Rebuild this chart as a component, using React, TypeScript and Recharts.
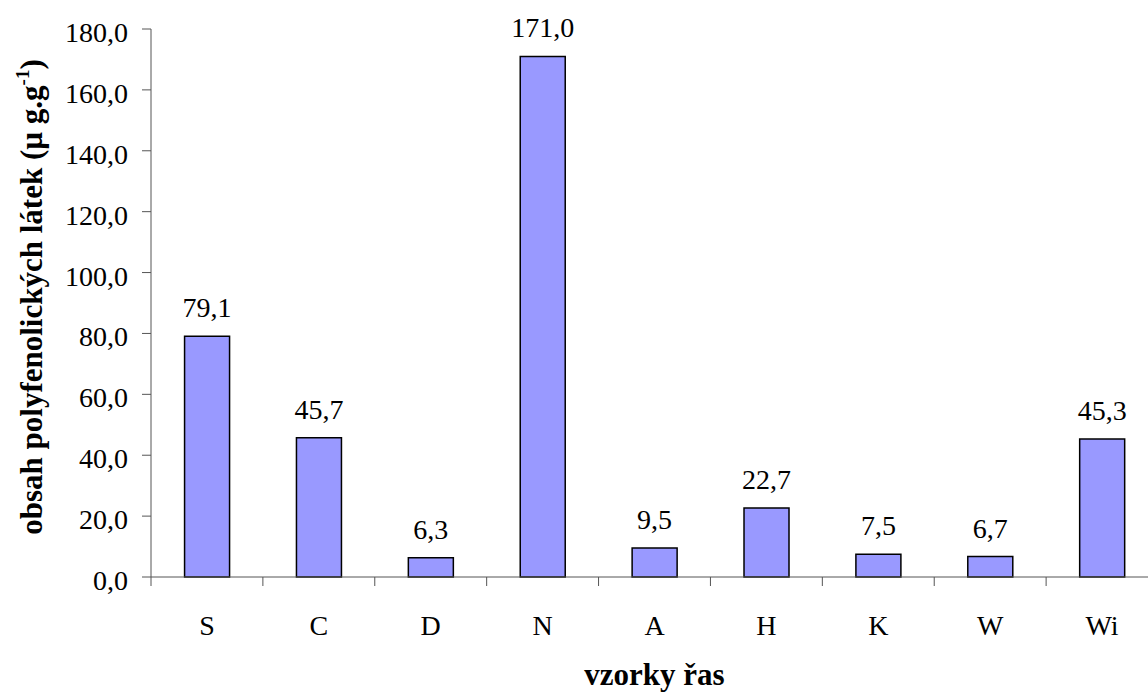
import React from 'react';
import { BarChart, Bar, XAxis, YAxis, LabelList } from 'recharts';

const samples = ['S', 'C', 'D', 'N', 'A', 'H', 'K', 'W', 'Wi'];
const polyphenols = [79.1, 45.7, 6.3, 171.0, 9.5, 22.7, 7.5, 6.7, 45.3];
const yTicks = [0, 20, 40, 60, 80, 100, 120, 140, 160, 180];

const data = samples.map((name, i) => ({ name, value: polyphenols[i] }));

const FONT = '"Liberation Serif", "Times New Roman", serif';
const AXIS = '#555';

const fmt = (v: number) => v.toFixed(1).replace('.', ',');

// category label plus a tick line on the left edge of each band
function CategoryTick(props: any) {
  const { x, y, payload } = props;
  const edge = x - payload.offset;
  return (
    <g>
      <line x1={edge} y1={y} x2={edge} y2={y + 9} stroke={AXIS} strokeWidth={1} />
      <text x={x} y={y + 58} textAnchor="middle" fontFamily={FONT} fontSize={28} fill="#000">
        {payload.value}
      </text>
    </g>
  );
}

function ValueTick(props: any) {
  const { x, y, payload } = props;
  return (
    <text x={x} y={y + 13} textAnchor="end" fontFamily={FONT} fontSize={28} fill="#000">
      {fmt(payload.value)}
    </text>
  );
}

function YTitle(props: any) {
  const vb = props.viewBox || {};
  const cy = vb.y + vb.height / 2 - 6;
  const bx = 42;
  return (
    <text
      x={bx}
      y={cy}
      transform={`rotate(-90, ${bx}, ${cy})`}
      textAnchor="middle"
      fontFamily={FONT}
      fontWeight="bold"
      fontSize={31}
      fill="#000"
    >
      obsah polyfenolických látek (µ g.g
      <tspan dy={-13} fontSize={19}>-1</tspan>
      <tspan dy={13}>)</tspan>
    </text>
  );
}

function XTitle(props: any) {
  const vb = props.viewBox || {};
  return (
    <text
      x={vb.x + vb.width / 2}
      y={vb.y + 108}
      textAnchor="middle"
      fontFamily={FONT}
      fontWeight="bold"
      fontSize={31}
      fill="#000"
    >
      vzorky řas
    </text>
  );
}

export default function App() {
  return (
    <div
      style={{
        position: 'fixed',
        top: 0,
        left: 0,
        width: 1148,
        height: 693,
        overflow: 'hidden',
        background: '#fff',
      }}
    >
      <BarChart
        width={1168}
        height={693}
        data={data}
        margin={{ top: 29, right: 10, bottom: 0, left: 0 }}
        barCategoryGap="30%"
      >
        <XAxis
          dataKey="name"
          height={116}
          axisLine={{ stroke: AXIS, strokeWidth: 1 }}
          tickLine={false}
          tickSize={0}
          tickMargin={0}
          tick={<CategoryTick />}
          interval={0}
          label={<XTitle />}
        />
        <YAxis
          width={151}
          domain={[0, 180]}
          ticks={yTicks}
          interval={0}
          axisLine={{ stroke: AXIS, strokeWidth: 1 }}
          tickLine={{ stroke: AXIS, strokeWidth: 1 }}
          tickSize={9}
          tickMargin={14}
          tick={<ValueTick />}
          label={<YTitle />}
        />
        <Bar dataKey="value" fill="#9999FF" stroke="#000" strokeWidth={1.5} isAnimationActive={false}>
          <LabelList
            dataKey="value"
            position="top"
            offset={19}
            formatter={(v: any) => fmt(Number(v))}
            style={{ fontFamily: FONT, fontSize: 28, fill: '#000' }}
          />
        </Bar>
      </BarChart>
    </div>
  );
}
